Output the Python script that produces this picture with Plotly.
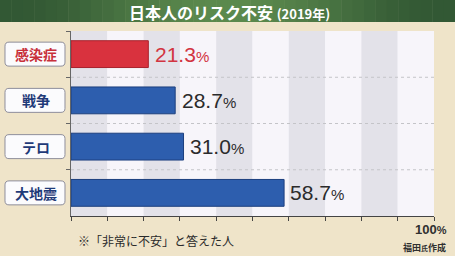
import plotly.graph_objects as go
import math

categories = ["感染症", "戦争", "テロ", "大地震"]
values = [21.3, 28.7, 31.0, 58.7]
bar_colors = ["#d9323e", "#2d5eae", "#2d5eae", "#2d5eae"]
label_colors = ["#c8303a", "#1f3a78", "#1f3a78", "#1f3a78"]
value_colors = ["#d23441", "#2b2b2b", "#2b2b2b", "#2b2b2b"]
title_main = "日本人のリスク不安"
title_sub = "(2019年)"
footnote = "※「非常に不安」と答えた人"
source = "福田氏作成"
x_max = 100

W, H = 455, 256
ML, MR, MT, MB = 71, 21, 31, 40
PH = H - MT - MB
PW = W - ML - MR

def py(pix):  # pixel y from top -> paper y
    return 1 - (pix - MT) / PH

def px(pix):
    return (pix - ML) / PW

JP = "Noto Sans CJK JP"
NUM = "Liberation Sans"

fig = go.Figure()
fig.add_trace(go.Bar(
    y=categories, x=values, orientation="h",
    marker=dict(color=bar_colors, line=dict(color=["#a8222c", "#1c3f7e", "#1c3f7e", "#1c3f7e"], width=1)),
    width=0.58, hoverinfo="skip",
))

shapes = []
for i in range(0, x_max, 10):
    shapes.append(dict(type="rect", xref="x", yref="paper", x0=i, x1=i + 10, y0=0, y1=1,
                       fillcolor="#e3e2e9" if (i // 10) % 2 == 0 else "#f7f5fa",
                       line=dict(width=0), layer="below"))
for b in [0.5, 1.5, 2.5]:
    shapes.append(dict(type="line", xref="x", yref="y", x0=0, x1=x_max, y0=b, y1=b,
                       line=dict(color="#c4c4c8", width=1, dash="dot"), layer="below"))
n = 40
for k in range(n):
    t = k / (n - 1)
    c = 0.5 + 0.5 * math.cos((t - 0.5) * 2 * math.pi)
    r = int(50 + (92 - 50) * c)
    g = int(88 + (138 - 88) * c)
    bl = int(52 + (78 - 52) * c)
    shapes.append(dict(type="rect", xref="paper", yref="paper",
                       x0=px(W * k / n), x1=px(W * (k + 1) / n + 0.5),
                       y0=py(22), y1=py(0), fillcolor=f"rgb({r},{g},{bl})",
                       line=dict(width=0), layer="below"))

def rounded(x0, y0, x1, y1, r):
    # pixel coords, y0 top, y1 bottom -> paper path
    pts = []
    def P(x, y):
        return f"{px(x):.5f},{py(y):.5f}"
    return (f"M {P(x0 + r, y0)} L {P(x1 - r, y0)} Q {P(x1, y0)} {P(x1, y0 + r)} "
            f"L {P(x1, y1 - r)} Q {P(x1, y1)} {P(x1 - r, y1)} "
            f"L {P(x0 + r, y1)} Q {P(x0, y1)} {P(x0, y1 - r)} "
            f"L {P(x0, y0 + r)} Q {P(x0, y0)} {P(x0 + r, y0)} Z")

for i, cat in enumerate(categories):
    cy = MT + PH * (i + 0.5) / len(categories)
    shapes.append(dict(type="path", xref="paper", yref="paper",
                       path=rounded(5, cy - 12, 65, cy + 12, 4),
                       fillcolor="#fbfbfd", line=dict(color="#8e8e9c", width=1)))

annotations = []
for i, cat in enumerate(categories):
    annotations.append(dict(xref="paper", yref="y", x=px(35.5), y=cat, text=f"<b>{cat}</b>",
                            showarrow=False, font=dict(family=JP, size=14, color=label_colors[i]),
                            xanchor="center", yanchor="middle"))
    v = values[i]
    annotations.append(dict(xref="x", yref="y", x=v + 1.2, y=cat,
                            text=f"{v:.1f}<span style='font-size:15px'>%</span>",
                            showarrow=False, font=dict(family=NUM, size=21, color=value_colors[i]),
                            xanchor="left", yanchor="middle"))
annotations.append(dict(xref="paper", yref="paper", x=px(W / 2 + 2), y=py(12),
                        text=f"<b>{title_main} <span style='font-size:13px'>{title_sub}</span></b>",
                        showarrow=False, font=dict(family=JP, size=16, color="white"),
                        xanchor="center", yanchor="middle"))
annotations.append(dict(xref="paper", yref="paper", x=px(76), y=py(240), text=footnote,
                        showarrow=False, font=dict(family=JP, size=12, color="#2a2a2a"),
                        xanchor="left", yanchor="middle"))
annotations.append(dict(xref="paper", yref="paper", x=px(449), y=py(229),
                        text=f"<b>{x_max}<span style='font-size:11px'>%</span></b>",
                        showarrow=False, font=dict(family=NUM, size=13, color="#303030"),
                        xanchor="right", yanchor="middle"))
annotations.append(dict(xref="paper", yref="paper", x=px(448), y=py(247),
                        text=f"<b>{source[:2]}<span style='font-size:7px'>{source[2]}</span>{source[3:]}</b>",
                        showarrow=False, font=dict(family=JP, size=9, color="#303030"),
                        xanchor="right", yanchor="middle"))

fig.update_layout(
    width=W, height=H, margin=dict(l=ML, r=MR, t=MT, b=MB),
    paper_bgcolor="#efe4c9", plot_bgcolor="#f7f5fa",
    showlegend=False, bargap=0.4,
    shapes=shapes, annotations=annotations,
    xaxis=dict(range=[0, x_max], dtick=10, showgrid=False, zeroline=False,
               showticklabels=False, ticks="outside", ticklen=4, tickcolor="#444",
               showline=True, linecolor="#444", linewidth=1, fixedrange=True),
    yaxis=dict(autorange="reversed", showticklabels=False, showgrid=False, zeroline=False,
               ticks="outside", tickson="boundaries", ticklen=4, tickcolor="#666",
               showline=True, linecolor="#666", linewidth=1, fixedrange=True),
)
fig.write_html("out.html")
